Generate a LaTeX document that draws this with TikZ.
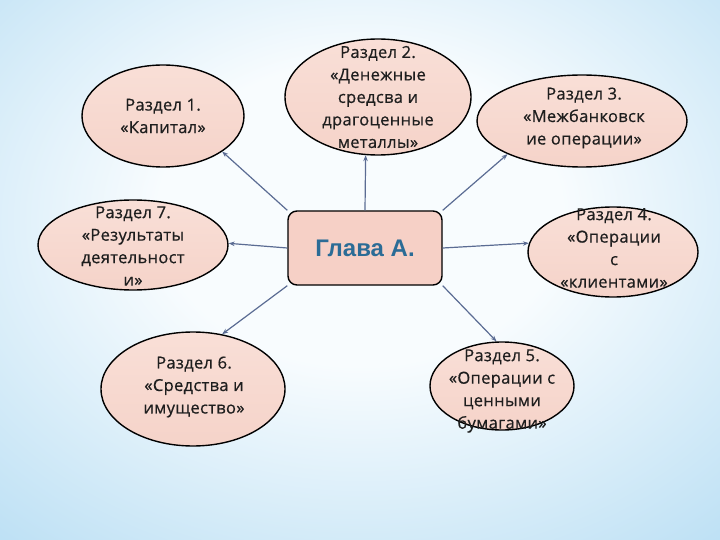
\documentclass[tikz,border=0pt]{standalone}
\usepackage{fontspec}
\setmainfont{Open Sans}[FakeBold=0.6,LetterSpace=2]
\newfontfamily\headfont{Liberation Sans}
\usetikzlibrary{arrows.meta,shapes.geometric}
\definecolor{bgin}{HTML}{F8FCFE}
\definecolor{bgmid}{HTML}{B4DCF3}
\definecolor{bgout}{HTML}{8EC6EC}
\definecolor{ellfill}{HTML}{F5D3C9}
\definecolor{ellfilltop}{HTML}{F9DFD7}
\definecolor{boxfill}{HTML}{F6D0C6}
\definecolor{headcol}{HTML}{2B6C96}
\definecolor{linkcol}{HTML}{5B6C93}
\definecolor{txtcol}{HTML}{1E1E1E}
\pgfdeclareradialshading{bgshade}{\pgfpoint{0bp}{6bp}}{color(0bp)=(bgin); color(14bp)=(bgin); color(42bp)=(bgmid); color(64bp)=(bgout); color(100bp)=(bgout)}
\tikzset{
  ell/.style={ellipse, draw=black, line width=1.4pt, top color=ellfilltop, bottom color=ellfill, inner sep=0pt},
  lbl/.style={align=center, text=txtcol, font=\fontsize{16.5}{22.5}\selectfont, inner sep=0pt},
  centerbox/.style={rectangle, rounded corners=9pt, draw=black, line width=1.4pt, fill=boxfill,
    minimum width=154pt, minimum height=74pt, text=headcol, font=\headfont\bfseries\fontsize{24}{27}\selectfont},
  link/.style={draw=linkcol, line width=1.2pt, -{Stealth[length=6pt,width=4.5pt]}}
}
\begin{document}
\begin{tikzpicture}[x=1pt,y=-1pt]
\useasboundingbox (0,0) rectangle (720,540);
\shade[shading=bgshade] (0,0) rectangle (720,540);
\node[centerbox] (c) at (365,248) {Глава А.};
% ellipses
\node[ell, minimum width=162pt, minimum height=102pt] (e1) at (163,116) {};
\node[lbl] (t1) at (e1) {Раздел 1.\\«Капитал»};
\node[ell, minimum width=186pt, minimum height=116pt] (e2) at (378,97) {};
\node[lbl] (t2) at (e2) {Раздел 2.\\«Денежные\\средсва и\\драгоценные\\металлы»};
\node[ell, minimum width=210pt, minimum height=92pt] (e3) at (582,121) {};
\node[lbl] (t3) at (584,118) {Раздел 3.\\«Межбанковск\\ие операции»};
\node[ell, minimum width=170pt, minimum height=90pt] (e4) at (613,252) {};
\node[lbl] (t4) at (614,248) {Раздел 4.\\«Операции\\с\\«клиентами»};
\node[ell, minimum width=144pt, minimum height=88pt] (e5) at (502,386) {};
\node[lbl] (t5) at (502,391) {Раздел 5.\\«Операции с\\ценными\\бумагами»};
\node[ell, minimum width=184pt, minimum height=114pt] (e6) at (193,389) {};
\node[lbl] (t6) at (194,387) {Раздел 6.\\«Средства и\\имущество»};
\node[ell, minimum width=190pt, minimum height=90pt] (e7) at (133,245) {};
\node[lbl] (t7) at (133,246) {Раздел 7.\\«Результаты\\деятельност\\и»};
% links
\draw[link] (c.north west) -- (e1.-31);
\draw[link] (c.north) -- (e2.-102);
\draw[link] (c.north east) -- (e3.-156);
\draw[link] (c.east) -- (e4.174);
\draw[link] (c.south east) -- (e5.97);
\draw[link] (c.south west) -- (e6.62);
\draw[link] (c.west) -- (e7.1);
\end{tikzpicture}
\end{document}
